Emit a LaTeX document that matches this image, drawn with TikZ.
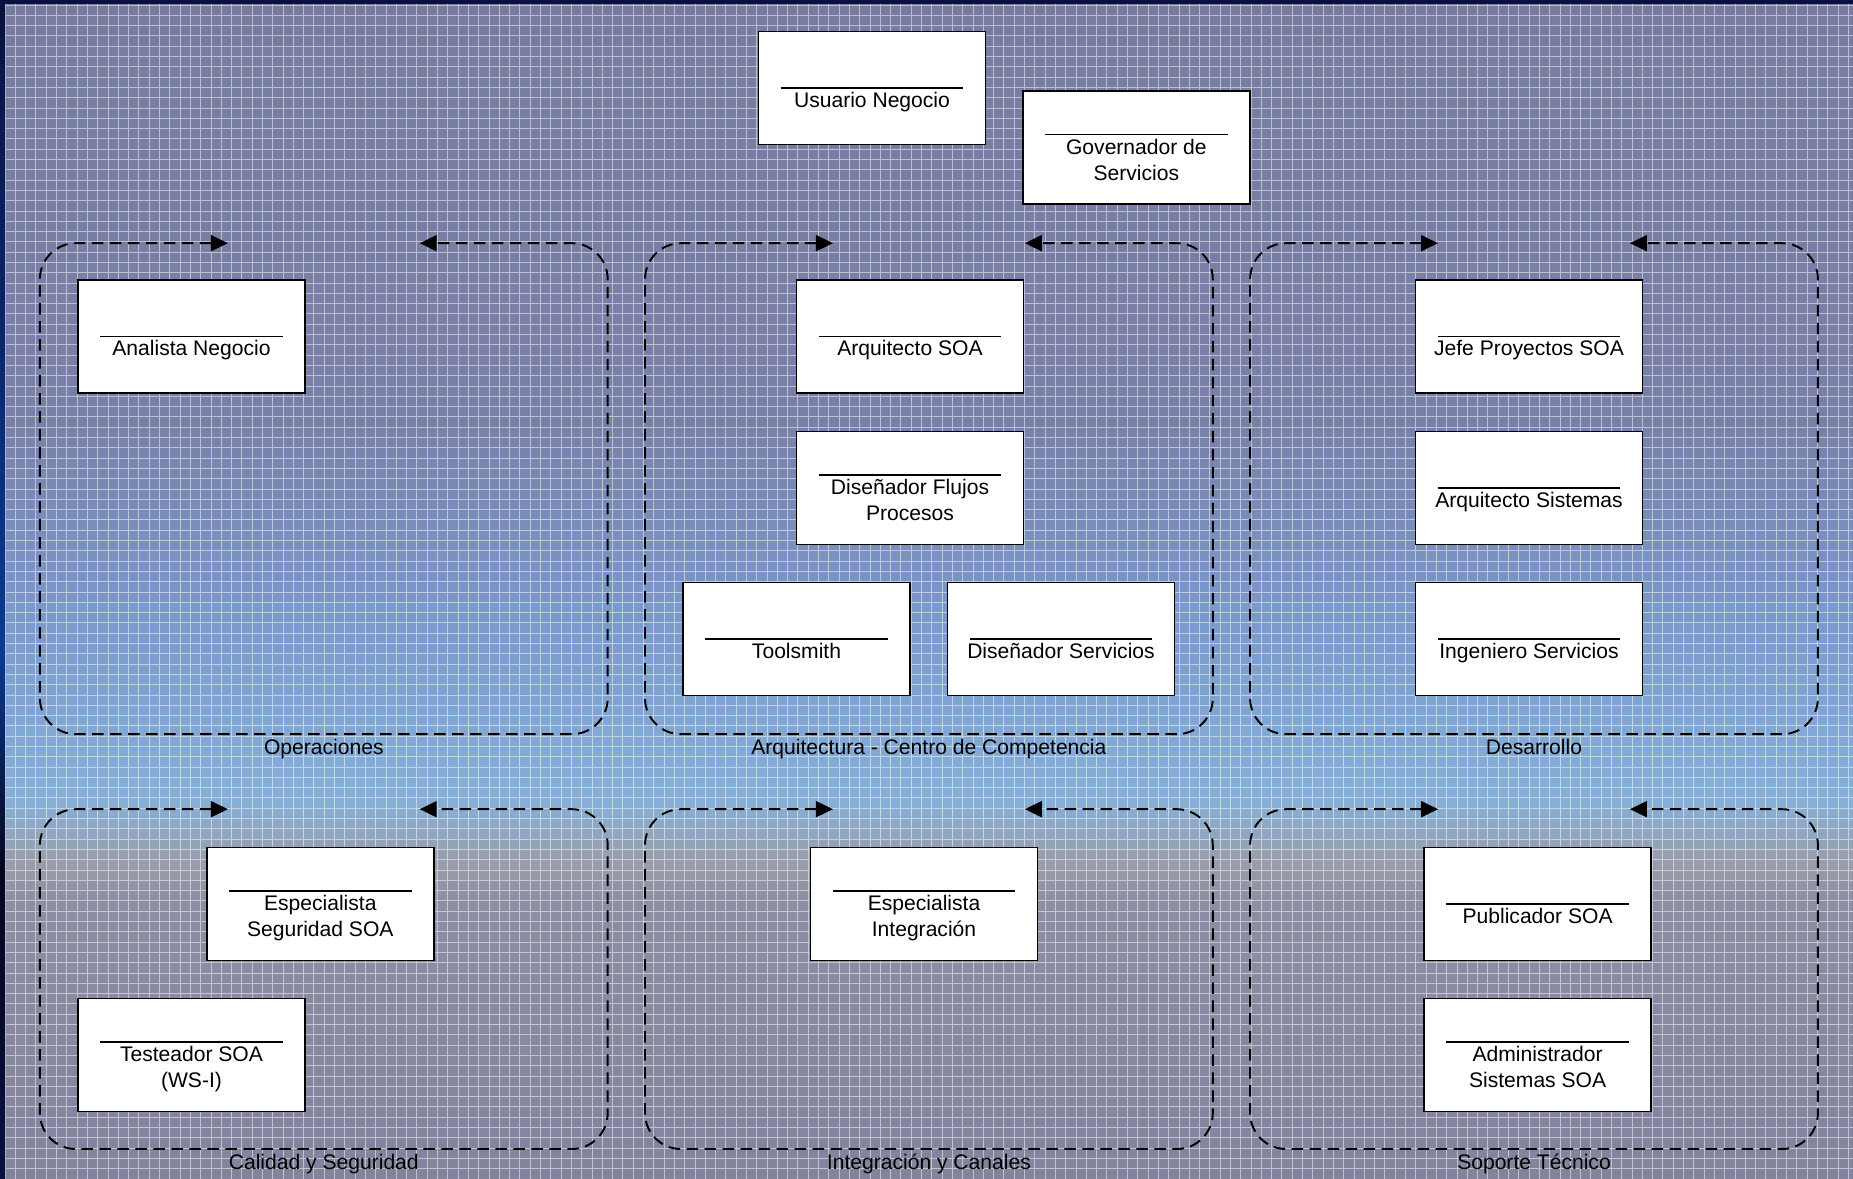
\documentclass[tikz,border=0pt]{standalone}
\usepackage{fontspec}
\setmainfont{Liberation Sans}
\usetikzlibrary{arrows.meta,calc}

\definecolor{fondoA}{HTML}{787CA0}
\definecolor{fondoB}{HTML}{7980A8}
\definecolor{fondoC}{HTML}{7A9ACC}
\definecolor{fondoD}{HTML}{86B0D8}
\definecolor{fondoE}{HTML}{9A9CA8}
\definecolor{fondoF}{HTML}{8C8EA4}
\definecolor{fondoG}{HTML}{82849E}
\definecolor{marcoA}{HTML}{0A1040}
\definecolor{marcoB}{HTML}{0A3C8C}
\definecolor{marcoC}{HTML}{050520}

\begin{document}
\begin{tikzpicture}[x=0.02cm,y=-0.02cm,
	rol/.style={draw=black,line width=0.85pt,fill=white,inner sep=0pt,
		minimum width=4.54cm,minimum height=2.26cm,
		path picture={\draw[black,line width=0.7pt]
			([xshift=0.44cm,yshift=#1]path picture bounding box.west) --
			([xshift=-0.44cm,yshift=#1]path picture bounding box.east);}},
	rol/.default=0cm,
	rotulo/.style={anchor=base,align=center,inner sep=0pt,font=\fontsize{12}{14.8}\selectfont},
	grupo/.style={inner sep=0pt,minimum width=11.344cm},
	carril/.style={draw=black,line width=1.1pt,dash pattern=on 0.23cm off 0.13cm,
		rounded corners=0.72cm,>={Triangle[length=0.34cm,width=0.32cm]},<->}]
	\useasboundingbox (0,0) rectangle (1853,1179);
	% fondo
	\shade[top color=fondoA,bottom color=fondoB] (0,0) rectangle (1853,421);
	\shade[top color=fondoB,bottom color=fondoC] (0,420) rectangle (1853,621);
	\shade[top color=fondoC,bottom color=fondoD] (0,620) rectangle (1853,801);
	\shade[top color=fondoD,bottom color=fondoE] (0,800) rectangle (1853,866);
	\shade[top color=fondoE,bottom color=fondoF] (0,865) rectangle (1853,901);
	\shade[top color=fondoF,bottom color=fondoG] (0,900) rectangle (1853,1179);
	\begin{scope}[shift={(5,5)}]
		\draw[white,opacity=0.5,line width=0.5pt,step=0.206cm] (-5,-5) grid (1848,1174);
	\end{scope}
	\shade[top color=marcoA,bottom color=marcoB] (0,0) rectangle (5,651);
	\shade[top color=marcoB,bottom color=marcoC] (0,650) rectangle (5,871);
	\shade[top color=marcoC,bottom color=marcoA] (0,870) rectangle (5,1179);
	\fill[marcoA] (0,0) rectangle (1853,4.5);

	% grupos
	\node[grupo,minimum height=9.808cm] (operaciones) at (323.8,488.7) {};
	\node[grupo,minimum height=9.808cm] (arquitectura) at (928.9,488.7) {};
	\node[grupo,minimum height=9.808cm] (desarrollo) at (1534,488.7) {};
	\node[grupo,minimum height=6.784cm] (calidad) at (323.8,979.1) {};
	\node[grupo,minimum height=6.784cm] (integracion) at (928.9,979.1) {};
	\node[grupo,minimum height=6.784cm] (soporte) at (1534,979.1) {};

	\draw[carril] ([xshift=3.76cm]operaciones.north west) -- (operaciones.north west) -- (operaciones.south west) -- (operaciones.south east) -- (operaciones.north east) -- ([xshift=-3.76cm]operaciones.north east);
	\draw[carril] ([xshift=3.76cm]arquitectura.north west) -- (arquitectura.north west) -- (arquitectura.south west) -- (arquitectura.south east) -- (arquitectura.north east) -- ([xshift=-3.76cm]arquitectura.north east);
	\draw[carril] ([xshift=3.76cm]desarrollo.north west) -- (desarrollo.north west) -- (desarrollo.south west) -- (desarrollo.south east) -- (desarrollo.north east) -- ([xshift=-3.76cm]desarrollo.north east);
	\draw[carril] ([xshift=3.76cm]calidad.north west) -- (calidad.north west) -- (calidad.south west) -- (calidad.south east) -- (calidad.north east) -- ([xshift=-3.76cm]calidad.north east);
	\draw[carril] ([xshift=3.76cm]integracion.north west) -- (integracion.north west) -- (integracion.south west) -- (integracion.south east) -- (integracion.north east) -- ([xshift=-3.76cm]integracion.north east);
	\draw[carril] ([xshift=3.76cm]soporte.north west) -- (soporte.north west) -- (soporte.south west) -- (soporte.south east) -- (soporte.north east) -- ([xshift=-3.76cm]soporte.north east);

	\node[rotulo] (operaciones-t) at ([yshift=-0.4cm]operaciones.south) {Operaciones};
	\node[rotulo] (arquitectura-t) at ([yshift=-0.4cm]arquitectura.south) {Arquitectura - Centro de Competencia};
	\node[rotulo] (desarrollo-t) at ([yshift=-0.4cm]desarrollo.south) {Desarrollo};
	\node[rotulo] (calidad-t) at ([yshift=-0.4cm]calidad.south) {Calidad y Seguridad};
	\node[rotulo] (integracion-t) at ([yshift=-0.4cm]integracion.south) {Integración y Canales};
	\node[rotulo] (soporte-t) at ([yshift=-0.4cm]soporte.south) {Soporte Técnico};

	% roles
	\node[rol] (usuario) at (872,88) {};
	\node[rotulo] (usuario-t) at ([yshift=-0.39cm]usuario.center) {Usuario Negocio};
	\node[rol=0.26cm] (governador) at (1136.4,147.7) {};
	\node[rotulo] (governador-t) at ([yshift=-0.65cm]governador.center) {Governador de\\Servicios};

	\node[rol] (analista) at (191.5,336.5) {};
	\node[rotulo] (analista-t) at ([yshift=-0.39cm]analista.center) {Analista Negocio};

	\node[rol] (arqsoa) at (910,336.5) {};
	\node[rotulo] (arqsoa-t) at ([yshift=-0.39cm]arqsoa.center) {Arquitecto SOA};
	\node[rol=0.26cm] (disflujos) at (910,488) {};
	\node[rotulo] (disflujos-t) at ([yshift=-0.65cm]disflujos.center) {Diseñador Flujos\\Procesos};
	\node[rol] (toolsmith) at (796.5,639) {};
	\node[rotulo] (toolsmith-t) at ([yshift=-0.39cm]toolsmith.center) {Toolsmith};
	\node[rol] (disserv) at (1061,639) {};
	\node[rotulo] (disserv-t) at ([yshift=-0.39cm]disserv.center) {Diseñador Servicios};

	\node[rol] (jefe) at (1529,336.5) {};
	\node[rotulo] (jefe-t) at ([yshift=-0.39cm]jefe.center) {Jefe Proyectos SOA};
	\node[rol] (arqsis) at (1529,488) {};
	\node[rotulo] (arqsis-t) at ([yshift=-0.39cm]arqsis.center) {Arquitecto Sistemas};
	\node[rol] (ingserv) at (1529,639) {};
	\node[rotulo] (ingserv-t) at ([yshift=-0.39cm]ingserv.center) {Ingeniero Servicios};

	\node[rol=0.26cm] (espseg) at (320.3,904) {};
	\node[rotulo] (espseg-t) at ([yshift=-0.65cm]espseg.center) {Especialista\\Seguridad SOA};
	\node[rol=0.26cm] (testeador) at (191.5,1055) {};
	\node[rotulo] (testeador-t) at ([yshift=-0.65cm]testeador.center) {Testeador SOA\\(WS-I)};

	\node[rol=0.26cm] (espint) at (924,904) {};
	\node[rotulo] (espint-t) at ([yshift=-0.65cm]espint.center) {Especialista\\Integración};

	\node[rol] (publicador) at (1537.6,904) {};
	\node[rotulo] (publicador-t) at ([yshift=-0.39cm]publicador.center) {Publicador SOA};
	\node[rol=0.26cm] (admin) at (1537.6,1055) {};
	\node[rotulo] (admin-t) at ([yshift=-0.65cm]admin.center) {Administrador\\Sistemas SOA};
	%\node[rotulo] at (1136,60) {};
\end{tikzpicture}
\end{document}
